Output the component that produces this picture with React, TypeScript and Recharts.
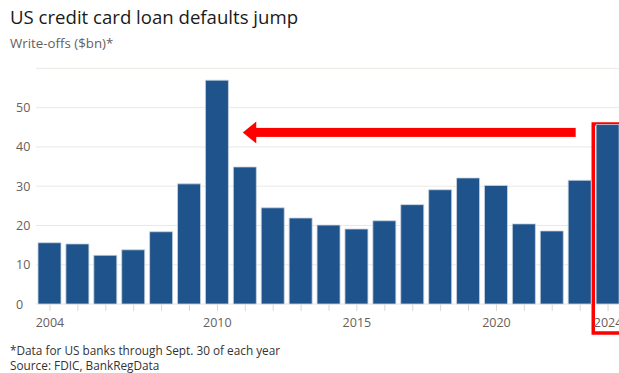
import { BarChart, Bar, XAxis, YAxis, CartesianGrid, ReferenceLine, ReferenceArea } from 'recharts';

const years = [2004, 2005, 2006, 2007, 2008, 2009, 2010, 2011, 2012, 2013, 2014, 2015, 2016, 2017, 2018, 2019, 2020, 2021, 2022, 2023, 2024];
const writeOffs = [15.6, 15.3, 12.4, 13.8, 18.4, 30.6, 57.0, 34.9, 24.5, 21.9, 20.1, 19.1, 21.2, 25.3, 29.1, 32.1, 30.2, 20.4, 18.6, 31.5, 45.7];
const labelledYears = [2004, 2010, 2015, 2020, 2024];
const yTicks = [0, 10, 20, 30, 40, 50];

const data = years.map((year, i) => ({ year, value: writeOffs[i] }));

const font = "'Open Sans', 'DejaVu Sans', sans-serif";
const grey = '#66605c';

function YTick({ y, payload }: any) {
  return (
    <text x={16} y={y} dy={4.5} fill={grey} fontSize={12.5} fontFamily={font} textAnchor="start">
      {payload.value}
    </text>
  );
}

function Arrow({ x1, y1, x2 }: any) {
  // x1,y1 = tail (right end), x2 = tip
  const head = 13.5;
  const half = 11;
  const shaft = 4.5;
  return (
    <g>
      <rect x={x2 + head - 0.5} y={y1 - shaft} width={x1 - x2 - head + 0.5} height={shaft * 2} fill="#ff0000" />
      <polygon points={`${x2},${y1} ${x2 + head},${y1 - half} ${x2 + head},${y1 + half}`} fill="#ff0000" />
    </g>
  );
}

export default function App() {
  return (
    <div style={{ position: 'absolute', left: 0, top: 0, width: 619, height: 373, overflow: 'hidden', background: '#fff' }}>
      <div style={{ position: 'absolute', left: 10, top: 4, fontFamily: font, fontSize: 18.6, fontWeight: 500, color: '#1a1a1a', whiteSpace: 'nowrap' }}>
        US credit card loan defaults jump
      </div>
      <div style={{ position: 'absolute', left: 10, top: 34, fontFamily: font, fontSize: 13.3, color: grey, whiteSpace: 'nowrap' }}>
        Write-offs ($bn)*
      </div>
      <BarChart width={622} height={373} data={data} margin={{ top: 68.4, right: 0, bottom: 39, left: 0 }}>
        <CartesianGrid vertical={false} stroke="#ece8e4" strokeWidth={1} />
        <XAxis
          dataKey="year"
          type="number"
          domain={[2003.5, 2024.5]}
          ticks={years}
          interval={0}
          allowDataOverflow
          axisLine={false}
          height={30}
          tickSize={7}
          tickLine={{ stroke: '#dcd8d4' }}
          tick={{ fill: grey, fontSize: 12.5, fontFamily: font }}
          tickFormatter={(v: number) => (labelledYears.includes(v) ? String(v) : '')}
          tickMargin={7}
        />
        <YAxis
          width={36}
          domain={[0, 60]}
          ticks={yTicks}
          axisLine={false}
          tickLine={false}
          tick={<YTick />}
        />
        <Bar dataKey="value" fill="#1f538b" stroke="#c9d4e2" strokeWidth={0.8} barSize={23} isAnimationActive={false} />
        <ReferenceLine
          segment={[{ x: 2022.84, y: 43.7 }, { x: 2010.91, y: 43.7 }]}
          ifOverflow="visible"
          shape={<Arrow />}
        />
        <ReferenceArea
          x1={2023.47}
          x2={2025.5}
          y1={-7.4}
          y2={45.85}
          ifOverflow="visible"
          fill="none"
          fillOpacity={0}
          stroke="#ff0000"
          strokeWidth={3.5}
        />
      </BarChart>
      <div style={{ position: 'absolute', left: 10, top: 343, fontFamily: font, fontSize: 11.8, color: '#333', whiteSpace: 'nowrap', lineHeight: '15px' }}>
        *Data for US banks through Sept. 30 of each year
        <br />
        Source: FDIC, BankRegData
      </div>
    </div>
  );
}
